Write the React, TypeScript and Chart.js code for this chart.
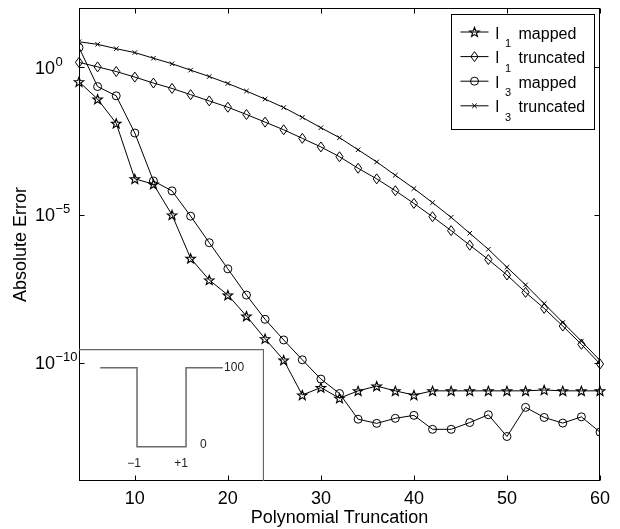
import { useEffect, useRef } from "react";
import { Chart, registerables } from "chart.js";

Chart.register(...registerables);

const FONT = "'Liberation Sans', Arial, Helvetica, sans-serif";

// Polynomial truncation (x)
const truncation = [4, 6, 8, 10, 12, 14, 16, 18, 20, 22, 24, 26, 28, 30, 32, 34, 36, 38, 40, 42, 44, 46, 48, 50, 52, 54, 56, 58, 60];

// Absolute error series
const l1Mapped = [0.32, 0.083, 0.0126, 1.66e-4, 1.1e-4, 1.0e-5, 3.4e-7, 6.3e-8, 1.95e-8, 3.8e-9, 6.5e-10, 1.23e-10, 8.1e-12, 1.45e-11, 6.3e-12, 1.12e-11, 1.62e-11, 1.12e-11, 8.1e-12, 1.12e-11, 1.12e-11, 1.12e-11, 1.12e-11, 1.12e-11, 1.12e-11, 1.2e-11, 1.12e-11, 1.12e-11, 1.12e-11];
const l1Truncated = [1.45, 1.02, 0.71, 0.46, 0.29, 0.19, 0.117, 0.072, 0.044, 0.025, 0.0138, 7.6e-3, 3.9e-3, 2.0e-3, 9.3e-4, 3.8e-4, 1.66e-4, 6.6e-5, 2.45e-5, 8.7e-6, 2.95e-6, 9.5e-7, 3.1e-7, 9.3e-8, 2.4e-8, 6.9e-9, 1.74e-9, 4.2e-10, 9.1e-11];
const l3Mapped = [4.6, 0.22, 0.107, 5.9e-3, 1.41e-4, 6.5e-5, 9.1e-6, 1.15e-6, 1.5e-7, 1.95e-8, 2.95e-9, 5.9e-10, 1.26e-10, 2.8e-11, 9.1e-12, 1.23e-12, 8.9e-13, 1.32e-12, 1.66e-12, 5.6e-13, 5.6e-13, 9.5e-13, 1.74e-12, 3.2e-13, 3.1e-12, 1.41e-12, 9.1e-13, 1.48e-12, 4.5e-13];
const l3Truncated = [7.2, 5.9, 4.2, 3.1, 2.0, 1.3, 0.79, 0.48, 0.28, 0.155, 0.083, 0.043, 0.020, 8.9e-3, 4.1e-3, 1.6e-3, 6.2e-4, 2.2e-4, 7.8e-5, 2.6e-5, 8.3e-6, 2.4e-6, 6.9e-7, 1.7e-7, 4.3e-8, 1.0e-8, 2.3e-9, 5.4e-10, 1.2e-10];

// Legend entries: [symbol, subscript, word]
const legendEntries = [
  ["l", "1", "mapped"],
  ["l", "1", "truncated"],
  ["l", "3", "mapped"],
  ["l", "3", "truncated"],
];

// Axis ticks
const xTickValues = [10, 20, 30, 40, 50, 60];
const yTickValues = [1, 1e-5, 1e-10];
const yTickExponents = ["0", "\u22125", "\u221210"];

// Inset: the square-well profile
const insetX = [-2.5, -1, -1, 1, 1, 2.5];
const insetY = [100, 100, 0, 0, 100, 100];
const insetNotes = [
  { x: 2.55, y: 100, text: "100", align: "left" },
  { x: 1.57, y: 3, text: "0", align: "left" },
  { x: -1.12, y: -22, text: "\u22121", align: "center" },
  { x: 0.8, y: -22, text: "+1", align: "center" },
];

const markerKinds = ["star", "diamond", "circle", "cross"];

function drawMarker(ctx: CanvasRenderingContext2D, kind: string, x: number, y: number) {
  ctx.beginPath();
  if (kind === "star") {
    const R = 5;
    const r = R * 0.42;
    for (let i = 0; i < 10; i++) {
      const a = -Math.PI / 2 + (i * Math.PI) / 5;
      const rad = i % 2 === 0 ? R : r;
      const px = x + rad * Math.cos(a);
      const py = y + 0.5 + rad * Math.sin(a);
      if (i === 0) ctx.moveTo(px, py);
      else ctx.lineTo(px, py);
    }
    ctx.closePath();
  } else if (kind === "diamond") {
    ctx.moveTo(x, y - 5);
    ctx.lineTo(x + 3.6, y);
    ctx.lineTo(x, y + 5);
    ctx.lineTo(x - 3.6, y);
    ctx.closePath();
  } else if (kind === "circle") {
    ctx.arc(x, y, 4, 0, Math.PI * 2);
  } else {
    const d = 2.3;
    ctx.moveTo(x - d, y - d);
    ctx.lineTo(x + d, y + d);
    ctx.moveTo(x + d, y - d);
    ctx.lineTo(x - d, y + d);
  }
  ctx.stroke();
}

export default function App() {
  const mainRef = useRef<HTMLCanvasElement>(null);
  const insetRef = useRef<HTMLCanvasElement>(null);

  useEffect(() => {
    const toPoints = (vals: number[]) => truncation.map((x, i) => ({ x, y: vals[i] }));

    const decor = {
      id: "decor",
      afterDatasetsDraw(chart: any) {
        const { ctx, chartArea: a, scales } = chart;
        const xs = scales.x;
        const ys = scales.y;
        ctx.save();

        // custom markers at the library-computed point positions
        ctx.save();
        ctx.beginPath();
        ctx.rect(a.left - 6, a.top - 6, a.right - a.left + 12, a.bottom - a.top + 12);
        ctx.clip();
        ctx.strokeStyle = "#000";
        [0, 1].forEach((di) => {
          const meta = chart.getDatasetMeta(di);
          ctx.lineWidth = di === 0 ? 1.15 : 1;
          meta.data.forEach((el: any) => drawMarker(ctx, markerKinds[di], el.x, el.y));
        });
        ctx.restore();

        ctx.strokeStyle = "#000";
        ctx.lineWidth = 1;
        const L = Math.round(a.left) + 0.5;
        const R = Math.round(a.right) - 0.5;
        const T = Math.round(a.top) + 0.5;
        const B = Math.round(a.bottom) - 0.5;
        ctx.strokeRect(L, T, R - L, B - T);
        ctx.beginPath();
        for (const v of xTickValues) {
          const px = Math.round(xs.getPixelForValue(v)) + 0.5;
          ctx.moveTo(px, B);
          ctx.lineTo(px, B - 5);
          ctx.moveTo(px, T);
          ctx.lineTo(px, T + 5);
        }
        for (const v of yTickValues) {
          const py = Math.round(ys.getPixelForValue(v)) + 0.5;
          ctx.moveTo(L, py);
          ctx.lineTo(L + 5, py);
          ctx.moveTo(R, py);
          ctx.lineTo(R - 5, py);
        }
        ctx.stroke();

        // y tick labels with superscripts
        ctx.fillStyle = "#000";
        ctx.textAlign = "left";
        ctx.textBaseline = "alphabetic";
        yTickValues.forEach((v, i) => {
          const py = ys.getPixelForValue(v);
          const x0 = a.left - 44;
          ctx.font = `18px ${FONT}`;
          ctx.fillText("10", x0, py + 6.5);
          const w = ctx.measureText("10").width;
          ctx.font = `13px ${FONT}`;
          ctx.fillText(yTickExponents[i], x0 + w + 0.5, py - 1.5);
        });

        // legend
        const bw = 143;
        const bh = 115;
        const bx = Math.round(a.right - 6 - bw) + 0.5;
        const by = Math.round(a.top + 6) + 0.5;
        ctx.fillStyle = "#fff";
        ctx.fillRect(bx, by, bw, bh);
        ctx.strokeStyle = "#000";
        ctx.lineWidth = 1;
        ctx.strokeRect(bx, by, bw, bh);
        legendEntries.forEach((entry, i) => {
          const ly = by + 17.5 + i * 24.6;
          ctx.lineWidth = 1;
          ctx.beginPath();
          ctx.moveTo(bx + 9, ly);
          ctx.lineTo(bx + 37, ly);
          ctx.stroke();
          ctx.lineWidth = i === 0 ? 1.15 : 1;
          drawMarker(ctx, markerKinds[i], bx + 23, ly);
          ctx.fillStyle = "#000";
          ctx.font = `16px ${FONT}`;
          ctx.fillText(entry[0], bx + 44, ly + 6.5);
          ctx.font = `11px ${FONT}`;
          ctx.fillText(entry[1], bx + 53.5, ly + 15);
          ctx.font = `16px ${FONT}`;
          ctx.fillText(entry[2], bx + 67, ly + 6.5);
        });
        ctx.restore();
      },
    };

    const main = new Chart(mainRef.current!, {
      type: "line",
      data: {
        datasets: [
          {
            label: "l1 mapped",
            data: toPoints(l1Mapped),
            borderColor: "#000",
            borderWidth: 1,
            pointRadius: 0,
          },
          {
            label: "l1 truncated",
            data: toPoints(l1Truncated),
            borderColor: "#000",
            borderWidth: 1,
            pointRadius: 0,
          },
          {
            label: "l3 mapped",
            data: toPoints(l3Mapped),
            borderColor: "#000",
            borderWidth: 1,
            pointStyle: "circle",
            pointRadius: 4,
            pointBorderWidth: 1,
            pointBorderColor: "#000",
            pointBackgroundColor: "rgba(0,0,0,0)",
          },
          {
            label: "l3 truncated",
            data: toPoints(l3Truncated),
            borderColor: "#000",
            borderWidth: 1,
            pointStyle: "crossRot",
            pointRadius: 3.2,
            pointBorderWidth: 1,
            pointBorderColor: "#000",
            pointBackgroundColor: "rgba(0,0,0,0)",
          },
        ],
      },
      options: {
        responsive: false,
        animation: false,
        events: [],
        layout: { padding: { top: 8, right: 20, left: 0, bottom: 0 } },
        plugins: {
          legend: { display: false },
          tooltip: { enabled: false },
        },
        scales: {
          x: {
            type: "linear",
            min: 4,
            max: 60,
            grid: { display: false, drawTicks: false },
            border: { display: false },
            afterBuildTicks: (s: any) => {
              s.ticks = xTickValues.map((v) => ({ value: v }));
            },
            afterFit: (s: any) => {
              s.height = 48;
            },
            ticks: {
              font: { family: FONT, size: 18 },
              color: "#000",
              padding: 7,
              maxRotation: 0,
              autoSkip: false,
            },
            title: {
              display: true,
              text: "Polynomial Truncation",
              font: { family: FONT, size: 18 },
              color: "#000",
              padding: { top: 0, bottom: 0 },
            },
          },
          y: {
            type: "logarithmic",
            min: 1e-14,
            max: 1e2,
            grid: { display: false, drawTicks: false },
            border: { display: false },
            ticks: { display: false },
            afterFit: (s: any) => {
              s.width = 79;
            },
            title: {
              display: true,
              text: "Absolute Error",
              font: { family: FONT, size: 18 },
              color: "#000",
              padding: { top: 10, bottom: 0 },
            },
          },
        },
      },
      plugins: [decor],
    } as any);

    const insetDecor = {
      id: "insetDecor",
      afterDatasetsDraw(chart: any) {
        const { ctx, chartArea: a, scales } = chart;
        ctx.save();
        ctx.strokeStyle = "#666";
        ctx.lineWidth = 1.3;
        ctx.beginPath();
        ctx.moveTo(a.left, a.top + 0.5);
        ctx.lineTo(a.right - 0.5, a.top + 0.5);
        ctx.lineTo(a.right - 0.5, a.bottom);
        ctx.stroke();
        ctx.fillStyle = "#222";
        ctx.font = `12px ${FONT}`;
        ctx.textBaseline = "middle";
        for (const n of insetNotes) {
          ctx.textAlign = n.align as CanvasTextAlign;
          ctx.fillText(n.text, scales.x.getPixelForValue(n.x), scales.y.getPixelForValue(n.y));
        }
        ctx.restore();
      },
    };

    const inset = new Chart(insetRef.current!, {
      type: "line",
      data: {
        datasets: [
          {
            data: insetX.map((x, i) => ({ x, y: insetY[i] })),
            borderColor: "#6a6a6a",
            borderWidth: 1.5,
            pointRadius: 0,
            tension: 0,
          },
        ],
      },
      options: {
        responsive: false,
        animation: false,
        events: [],
        layout: { padding: 0 },
        plugins: { legend: { display: false }, tooltip: { enabled: false } },
        scales: {
          x: { type: "linear", display: false, min: -3.367, max: 4.18 },
          y: { type: "linear", display: false, min: -43.4, max: 123.7 },
        },
      },
      plugins: [insetDecor],
    } as any);

    return () => {
      main.destroy();
      inset.destroy();
    };
  }, []);

  return (
    <div style={{ position: "fixed", left: 0, top: 0, width: 620, height: 529, background: "#fff" }}>
      <canvas ref={mainRef} width={620} height={529} style={{ position: "absolute", left: 0, top: 0 }} />
      <div style={{ position: "absolute", left: 79, top: 349, width: 185, height: 132 }}>
        <canvas ref={insetRef} width={185} height={132} />
      </div>
    </div>
  );
}
